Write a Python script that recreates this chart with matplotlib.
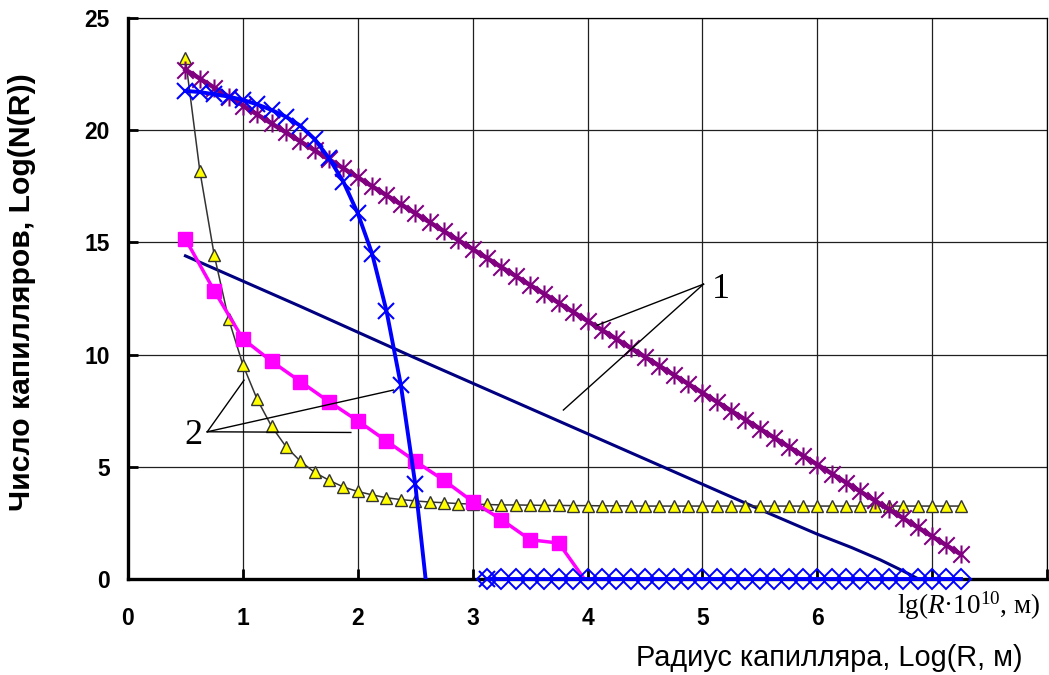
import numpy as np
import matplotlib
matplotlib.use("Agg")
import matplotlib.pyplot as plt
from matplotlib.path import Path

plt.rcParams["font.family"] = ["Liberation Sans", "DejaVu Sans"]
plt.rcParams["mathtext.fontset"] = "custom"
plt.rcParams["mathtext.rm"] = "Liberation Serif"
plt.rcParams["mathtext.it"] = "Liberation Serif:italic"

# lg(R*1e10) grid, step 0.125
lg_r = [0.5, 0.625, 0.75, 0.875, 1.0, 1.125, 1.25, 1.375, 1.5, 1.625, 1.75, 1.875,
        2.0, 2.125, 2.25, 2.375, 2.5, 2.625, 2.75, 2.875, 3.0, 3.125, 3.25, 3.375,
        3.5, 3.625, 3.75, 3.875, 4.0, 4.125, 4.25, 4.375, 4.5, 4.625, 4.75, 4.875,
        5.0, 5.125, 5.25, 5.375, 5.5, 5.625, 5.75, 5.875, 6.0, 6.125, 6.25, 6.375,
        6.5, 6.625, 6.75, 6.875, 7.0, 7.125, 7.25]

# curve 1 (purple, asterisks)
purple_y = [22.7, 22.3, 21.9, 21.5, 21.1, 20.7, 20.3, 19.9, 19.5, 19.1, 18.7, 18.3,
            17.9, 17.5, 17.1, 16.7, 16.3, 15.9, 15.5, 15.1, 14.7, 14.3, 13.9, 13.5,
            13.1, 12.7, 12.3, 11.9, 11.5, 11.1, 10.7, 10.3, 9.9, 9.5, 9.1, 8.7,
            8.3, 7.9, 7.5, 7.1, 6.7, 6.3, 5.9, 5.5, 5.1, 4.7, 4.3, 3.9,
            3.5, 3.1, 2.7, 2.3, 1.9, 1.5, 1.1]

# yellow triangles
tri_y = [23.2, 18.2, 14.45, 11.6, 9.55, 8.0, 6.8, 5.9, 5.25, 4.75, 4.4, 4.1,
         3.9, 3.75, 3.62, 3.54, 3.48, 3.43, 3.4, 3.36, 3.34, 3.32, 3.3, 3.3,
         3.29, 3.28, 3.28, 3.27, 3.27, 3.26, 3.26, 3.26, 3.25, 3.25, 3.25, 3.25,
         3.25, 3.25, 3.25, 3.25, 3.25, 3.25, 3.25, 3.25, 3.25, 3.25, 3.25, 3.25,
         3.25, 3.25, 3.25, 3.25, 3.25, 3.25, 3.25]

# blue curve with x markers (last point goes below axis)
blue_x = lg_r[:18]
blue_y = [21.75, 21.7, 21.6, 21.5, 21.35, 21.15, 20.9, 20.6, 20.2, 19.6, 18.75, 17.7,
          16.3, 14.5, 11.95, 8.65, 4.25, -1.6]

# blue zeros with diamonds
zero_x = lg_r[21:]
zero_y = [0.0] * len(zero_x)

# magenta squares
mag_x = [0.5, 0.75, 1.0, 1.25, 1.5, 1.75, 2.0, 2.25, 2.5, 2.75, 3.0, 3.25, 3.5, 3.75, 4.0]
mag_y = [15.15, 12.85, 10.7, 9.7, 8.8, 7.9, 7.05, 6.15, 5.25, 4.4, 3.45, 2.65, 1.75, 1.6, -0.2]

# navy line
navy_x = [0.5, 1.5, 2.5, 3.5, 4.5, 5.5, 6.0, 6.3, 6.55, 6.75, 6.9, 7.0]
navy_y = [14.4, 12.15, 9.85, 7.6, 5.35, 3.1, 2.0, 1.4, 0.85, 0.35, -0.05, -0.4]

star = Path([(-1, -1), (1, 1), (-1, 1), (1, -1), (0, -1.1), (0, 1.1)],
            [Path.MOVETO, Path.LINETO, Path.MOVETO, Path.LINETO, Path.MOVETO, Path.LINETO])

fig = plt.figure(figsize=(10.49, 6.75), dpi=100)
ax = fig.add_axes([128 / 1049, 1 - 579 / 675, 919 / 1049, 561 / 675])

ax.plot(navy_x, navy_y, color="#000080", lw=2.2, zorder=3)
ax.plot(lg_r, tri_y, color="#333333", lw=1.1, marker="^", ms=8.5,
        mfc="#FFFF00", mec="#333333", mew=1.0, zorder=4)
ax.plot(mag_x, mag_y, color="#FF00FF", lw=2.5, marker="s", ms=10,
        mfc="#FF00FF", mec="#FF00FF", markevery=slice(0, 14), zorder=5)
ax.plot(lg_r, purple_y, color="#800080", lw=3.2, marker=star, ms=13,
        mfc="none", mec="#800080", mew=1.5, zorder=6)
ax.plot(blue_x, blue_y, color="#0000FF", lw=2.8, marker="x", ms=12,
        mec="#0000FF", mew=1.5, zorder=7)
ax.plot(zero_x, zero_y, color="#0000FF", lw=2.8, marker="D", ms=10.5,
        mfc="none", mec="#0000FF", mew=1.4, clip_on=False, zorder=8)
ax.plot(zero_x[:1], zero_y[:1], ls="none", marker="x", ms=12,
        mec="#0000FF", mew=1.5, clip_on=False, zorder=8)

ax.set_xlim(0, 8)
ax.set_ylim(0, 25)
ax.set_xticks(range(0, 9))
ax.set_xticklabels(["0", "1", "2", "3", "4", "5", "6", "", ""])
ax.set_yticks([0, 5, 10, 15, 20, 25])
ax.grid(True, color="#202020", lw=0.9)
ax.set_axisbelow(True)
for lab in ax.get_xticklabels() + ax.get_yticklabels():
    lab.set_fontweight("bold")
ax.tick_params(axis="both", direction="in", length=7, width=2, labelsize=16.5)
ax.tick_params(axis="x", pad=20)
ax.tick_params(axis="y", pad=13)
ax.spines["left"].set_linewidth(2.4)
ax.spines["bottom"].set_linewidth(2.4)
ax.spines["top"].set_linewidth(0.9)
ax.spines["right"].set_linewidth(0.9)

# annotation lines
ax.plot([5.01, 4.085], [13.14, 11.31], color="black", lw=1.0, zorder=9)
ax.plot([5.01, 3.79], [13.14, 7.53], color="black", lw=1.0, zorder=9)
ax.text(5.08, 12.9, "1", family="Liberation Serif", fontsize=26, ha="left", va="center")
ax.plot([0.69, 1.01], [6.56, 8.86], color="black", lw=1.0, zorder=9)
ax.plot([0.69, 2.31], [6.56, 8.42], color="black", lw=1.0, zorder=9)
ax.plot([0.69, 1.94], [6.56, 6.53], color="black", lw=1.0, zorder=9)
ax.text(0.65, 6.4, "2", family="Liberation Serif", fontsize=26, ha="right", va="center")

ax.text(7.32, -1.2, r"lg($R$·10$^{10}$, м)", family="Liberation Serif", fontsize=19.5,
        ha="center", va="center", clip_on=False)

fig.text(1022 / 1049, 1 - 658 / 675, "Радиус капилляра, Log(R, м)", fontsize=20.8,
         ha="right", va="center")
fig.text(22 / 1049, 1 - 292 / 675, "Число капилляров, Log(N(R))", fontsize=21.7,
         fontweight="bold", rotation=90, ha="center", va="center")

fig.savefig("out.png", dpi=100)
